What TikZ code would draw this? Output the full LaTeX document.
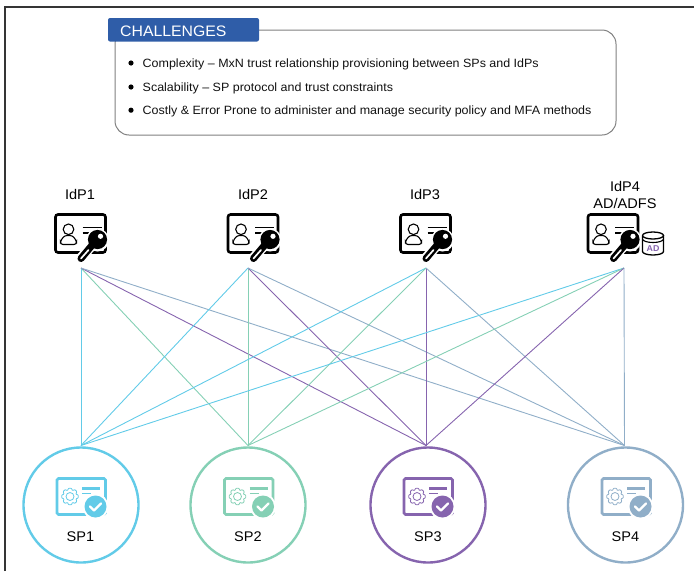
\documentclass[tikz,border=0pt]{standalone}
\usepackage{fontspec}
\setmainfont{Liberation Sans}[FakeStretch=1.04]
\definecolor{spa}{HTML}{62CBE8}
\definecolor{spb}{HTML}{85D0B5}
\definecolor{spc}{HTML}{8664AE}
\definecolor{spd}{HTML}{90AEC8}
\definecolor{ttl}{HTML}{2F5DA8}
\definecolor{ink}{HTML}{111111}
\tikzset{
  x=1pt,y=-1pt,
  frameline/.style={draw=ink!85,line width=2pt},
  bx/.style={draw=black!50,line width=1pt,rounded corners=14pt},
  titlebox/.style={fill=ttl,rounded corners=2pt},
  titletext/.style={text=white,font=\fontsize{15.2}{18}\selectfont,anchor=west,inner sep=0pt},
  bullettext/.style={text=ink,font=\fontsize{12}{14}\selectfont,anchor=west,inner sep=0pt},
  idplabel/.style={text=black,font=\fontsize{14}{17}\selectfont,inner sep=0pt,align=center},
  splabel/.style={text=black,font=\fontsize{14}{17}\selectfont,inner sep=0pt},
  anchorbox/.style={minimum width=50pt,minimum height=54pt,inner sep=0pt,outer sep=0pt},
  spcircle/.style={circle,draw=#1,line width=2.4pt,minimum size=115pt,inner sep=0pt,outer sep=0pt},
  link/.style={draw=#1,line width=0.9pt},
  pics/idpicon/.style={code={
    \draw[black,line width=2.6pt,rounded corners=2.5pt] (0,0) rectangle (50,38);
    \draw[black,line width=1.1pt] (13,14.8) circle (5.3);
    \draw[black,line width=1.1pt,rounded corners=2.5pt] (5,30) -- (5,26.5) -- (9,21) -- (17,21) -- (21,26.5) -- (21,30) -- cycle;
    \draw[black,line width=1.3pt] (27,13) -- (46,13) (27,18.5) -- (35,18.5);
    \draw[white,line width=10pt] (40,27) -- (24,45);
    \fill[white] (42,25.5) circle (11.5);
    \draw[black,line width=7pt,line cap=round] (38,29) -- (25.5,44);
    \draw[white,line width=1.7pt,line cap=round] (33,35.5) -- (25.5,44);
    \fill[black] (42,25) circle (9.6);
    \fill[white] (45,21.8) circle (2.6);
  }},
  pics/spicon/.style={code={
    \draw[#1,line width=2.6pt,rounded corners=1.5pt] (0,0) rectangle (48.5,36);
    \draw[#1,line width=0.8pt] (13,18) circle (4);
    \draw[#1,line width=0.8pt,rounded corners=0.6pt] ([shift={(13,18)}]-22:6.4)
      \foreach \a in {0,45,...,315} {
        -- ([shift={(13,18)}]\a-10:8.4) -- ([shift={(13,18)}]\a+10:8.4) -- ([shift={(13,18)}]\a+22:6.4)
      };
    \draw[#1,line width=2.6pt] (25,10) -- (43,10);
    \draw[#1,line width=1.3pt] (25,15) -- (34,15);
    \fill[white] (38.5,28) circle (13);
    \fill[#1] (38.5,28) circle (11);
    \draw[white,line width=2.4pt,line cap=round,line join=round] (33,28) -- (37,32) -- (44,25);
  }},
  pics/cylicon/.style={code={
    \draw[black,line width=1.3pt] (0,3.5) arc[start angle=180,end angle=-180,x radius=10.5,y radius=3.5];
    \draw[black,line width=1.3pt] (0,3.5) -- (0,19.5) arc[start angle=180,end angle=0,x radius=10.5,y radius=3.5] -- (21,3.5);
    \draw[black,line width=1.1pt] (0,7) arc[start angle=180,end angle=0,x radius=10.5,y radius=3.5];
  }}
}
\begin{document}
\begin{tikzpicture}
\useasboundingbox (0,0) rectangle (694,571);
\coordinate (fa) at (5,571); \coordinate (fb) at (5,6.5); \coordinate (fc) at (694,6.5);
\draw[frameline] (fa) -- (fb) -- (fc);

% challenges
\node[bx,minimum width=501pt,minimum height=105pt,inner sep=0pt] (box) at (365.5,82.5) {};
\fill[titlebox] (108,18) rectangle (259,41.5);
\node[titletext] (ttltxt) at (120,31) {CHALLENGES};
\foreach \yy/\nm/\txt in {64/a/{Complexity – MxN trust relationship provisioning between SPs and IdPs},
  88/b/{Scalability – SP protocol and trust constraints},
  111.2/c/{Costly \& Error Prone to administer and manage security policy and MFA methods}}{
  \fill[black] (131,\yy-1) circle (2.6);
  \node[bullettext] (ch\nm) at (142.5,\yy) {\txt};
}

% IdP anchors: south side is where the links start
\node[anchorbox] (idp1) at (81,241) {};
\node[anchorbox] (idp2) at (248,241) {};
\node[anchorbox] (idp3) at (426,241) {};
\node[anchorbox] (idp4) at (624,241) {};
% SP circles
\node[spcircle=spa] (sp1) at (81,505) {};
\node[spcircle=spb] (sp2) at (248,505) {};
\node[spcircle=spc] (sp3) at (428,505) {};
\node[spcircle=spd] (sp4) at (625.5,505) {};

% links
\foreach \i in {1,2,3,4}{
  \draw[link=spa] (idp\i.south) -- ([yshift=2pt]sp1.north);
  \draw[link=spb] (idp\i.south) -- ([yshift=2pt]sp2.north);
  \draw[link=spc] (idp\i.south) -- ([xshift=-2pt,yshift=2pt]sp3.north);
  \draw[link=spd] (idp\i.south) -- ([xshift=-1pt,yshift=2pt]sp4.north);
}

% IdP icons
\pic at (55.5,214.5) {idpicon};
\pic at (228,214.5) {idpicon};
\pic at (400.5,214.5) {idpicon};
\pic at (588,214.5) {idpicon};
\pic at (642.5,232) {cylicon};
\node[text=spc,font=\fontsize{8.5}{9}\bfseries\selectfont,inner sep=0pt] (adtag) at (653,248.5) {AD};

\node[idplabel] (l1) at (80,194.5) {IdP1};
\node[idplabel] (l2) at (253,194.5) {IdP2};
\node[idplabel] (l3) at (425,194.5) {IdP3};
\node[idplabel] (l4) at (625,195) {IdP4\\AD/ADFS};

% SP icons
\pic at (57,478.5) {spicon=spa};
\pic at (224.5,478.5) {spicon=spb};
\pic at (404,478.5) {spicon=spc};
\pic at (602,478.5) {spicon=spd};
\node[splabel] (s1) at (80.5,536.7) {SP1};
\node[splabel] (s2) at (248,536.7) {SP2};
\node[splabel] (s3) at (428,536.7) {SP3};
\node[splabel] (s4) at (625.5,536.7) {SP4};
\end{tikzpicture}
\end{document}
